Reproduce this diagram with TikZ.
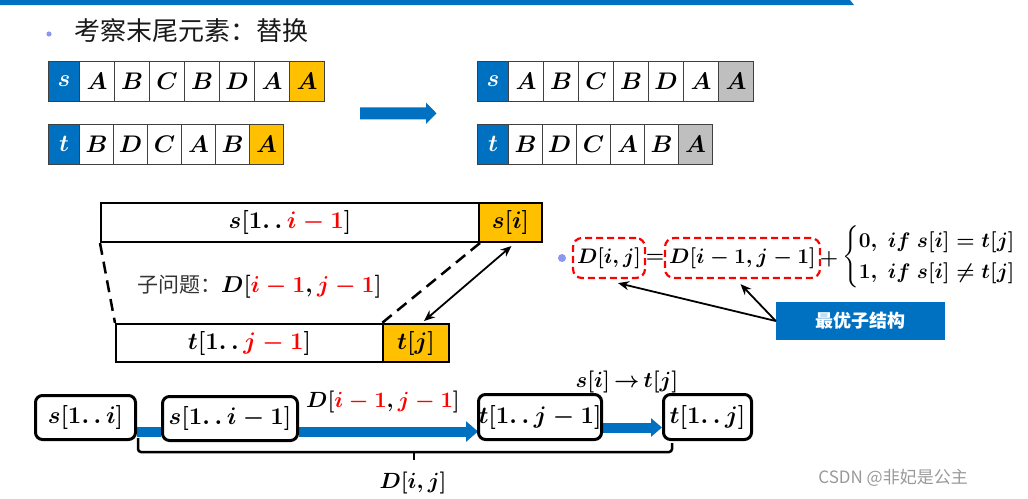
\RequirePackage{fix-cm}
\documentclass[tikz,border=0pt]{standalone}
\usepackage{amsmath}
\usepackage{fontspec}
\newfontfamily\cjk{Noto Sans CJK SC}
\usetikzlibrary{arrows.meta,calc,backgrounds}
\definecolor{myblue}{RGB}{0,112,192}
\definecolor{mygold}{RGB}{255,192,0}
\definecolor{mygray}{RGB}{191,191,191}
\definecolor{bulletc}{RGB}{140,150,240}
\newcommand\mfont{\fontsize{24}{28}\selectfont\boldmath}
\newcommand\ffont{\fontsize{21}{25}\selectfont\boldmath}
\newcommand\lfont{\fontsize{22}{26}\selectfont\boldmath}
\newcommand\mydots{.\,.\,}
\tikzset{
  cell/.style={draw=black!75, line width=1.2pt, minimum height=40pt, inner sep=0pt, anchor=north west, font=\mfont},
  bigrect/.style={draw=black, line width=2pt, inner sep=0pt, anchor=north west, font=\mfont},
  rbox/.style={draw=black, line width=3pt, rounded corners=7pt, fill=white, inner sep=0pt, anchor=north west, font=\mfont},
  reddash/.style={draw=red, line width=2.2pt, dash pattern=on 7pt off 4pt, rounded corners=9pt, inner sep=0pt, minimum height=40pt, font=\ffont},
  blueline/.style={draw=myblue, line width=10pt},
  blackarrow/.style={line width=1.8pt, -{Stealth[length=11pt,width=9pt]}},
  dashline/.style={line width=2.5pt, dash pattern=on 12pt off 7pt},
}
\begin{document}
\begin{tikzpicture}[x=1pt,y=-1pt]
\useasboundingbox (0,0) rectangle (1028,498);
% top bar
\fill[myblue] (0,0) -- (850,0) -- (854,5) -- (0,5) -- cycle;
% title
\fill[bulletc] (49,34) circle (2.6);
\node[anchor=west, font=\cjk\fontsize{26}{30}\selectfont, text=black!90, inner sep=0pt] (title) at (74,31) {考察末尾元素：替换};
% left rows
\node[cell, minimum width=31pt, fill=myblue, text=white] (sa0) at (48,61) {$s$};
\foreach \l [count=\k] in {A,B,C,B,D,A}
  \node[cell, minimum width=35pt] (sa\k) at ({79+35*(\k-1)},61) {$\l$};
\node[cell, minimum width=35pt, fill=mygold] (sa7) at (289,61) {$A$};
\node[cell, minimum width=31pt, fill=myblue, text=white] (ta0) at (48,123.5) {$t$};
\foreach \l [count=\k] in {B,D,C,A,B}
  \node[cell, minimum width=34pt] (ta\k) at ({79+34*(\k-1)},123.5) {$\l$};
\node[cell, minimum width=34pt, fill=mygold] (ta6) at (249,123.5) {$A$};
% right rows
\node[cell, minimum width=31pt, fill=myblue, text=white] (sb0) at (477,61) {$s$};
\foreach \l [count=\k] in {A,B,C,B,D,A}
  \node[cell, minimum width=35pt] (sb\k) at ({508+35*(\k-1)},61) {$\l$};
\node[cell, minimum width=35pt, fill=mygray] (sb7) at (718,61) {$A$};
\node[cell, minimum width=31pt, fill=myblue, text=white] (tb0) at (477,123.5) {$t$};
\foreach \l [count=\k] in {B,D,C,A,B}
  \node[cell, minimum width=34pt] (tb\k) at ({508+34*(\k-1)},123.5) {$\l$};
\node[cell, minimum width=34pt, fill=mygray] (tb6) at (678,123.5) {$A$};
% big blue arrow
\fill[myblue] (360,107.3) -- (426,107.3) -- (426,102.5) -- (436.5,113.3) -- (426,124) -- (426,119.3) -- (360,119.3) -- cycle;
% middle-left diagram
\node[bigrect, minimum width=378pt, minimum height=39pt] (srest) at (100,202) {$s[1\mydots{\color{red}i-1}]$};
\node[bigrect, minimum width=63pt, minimum height=39pt, fill=mygold] (si) at (478,202) {$s[i]$};
\node[bigrect, minimum width=267pt, minimum height=38pt] (trest) at (115,323) {$t[1\mydots{\color{red}j-1}]$};
\node[bigrect, minimum width=66pt, minimum height=38pt, fill=mygold] (tj) at (382,323) {$t[j]$};
\draw[dashline] (srest.south west) -- (trest.north west);
\draw[dashline] (srest.south east) -- (tj.north west);
\draw[line width=1.8pt, {Stealth[length=11pt,width=9pt]}-{Stealth[length=11pt,width=9pt]}] ($(si.south)+(1,3)$) -- ($(tj.north)+(8,-2)$);
\node[anchor=west, font=\fontsize{23}{27}\selectfont\boldmath, inner sep=0pt] (sub) at (137,287) {{\cjk\fontsize{21}{25}\selectfont\color{black!80}子问题：}$D[{\color{red}i-1},{\color{red}j-1}]$};
% formula
\fill[bulletc] (562,258) circle (4);
\node[reddash, minimum width=72pt] (D1) at (609,258) {$D[i,j]$};
\node[font=\ffont, inner sep=0pt] (eq) at (655,258) {$=$};
\node[reddash, minimum width=155pt] (D2) at (742.5,258) {$D[i-1,j-1]$};
\node[font=\ffont, inner sep=0pt] (plus) at (829,259) {$+$};
\node[anchor=west, font=\fontsize{21}{26}\selectfont\boldmath, inner sep=0pt] (cs) at (842,257) {$\begin{cases}0,\ if\ s[i]=t[j]\\1,\ if\ s[i]\neq t[j]\end{cases}$};
\node[fill=myblue, text=white, font=\cjk\bfseries\fontsize{18}{21}\selectfont, minimum width=169pt, minimum height=38pt, inner sep=0pt] (opt) at (860.5,321) {最优子结构};
\draw[blackarrow] (opt.west) -- ($(D1.south)+(9,4)$);
\draw[blackarrow] (opt.west) -- ($(D2.south)+(-2,5)$);
% bottom chain
\node[rbox, minimum width=100pt, minimum height=44pt] (b1) at (34,394) {$s[1\mydots i]$};
\node[rbox, minimum width=135pt, minimum height=44pt] (b2) at (161,395) {$s[1\mydots i-1]$};
\node[rbox, minimum width=120pt, minimum height=45pt] (b3) at (477,393) {$t[1\mydots j-1]$};
\node[rbox, minimum width=88pt, minimum height=45pt] (b4) at (662,393) {$t[1\mydots j]$};
\begin{scope}[on background layer]
\draw[blueline] ($(b1.east)+(0,14)$) -- ($(b2.west)+(0,13)$);
\draw[blueline, -{Triangle[length=12pt,width=20pt]}] ($(b2.east)+(0,13)$) -- ($(b3.west)+(1,14.5)$);
\draw[blueline, -{Triangle[length=11pt,width=18pt]}] ($(b3.east)+(0,10.5)$) -- ($(b4.west)+(0,10.5)$);
\end{scope}
\node[font=\lfont, inner sep=0pt] (lab1) at (383,402) {$D[{\color{red}i-1},{\color{red}j-1}]$};
\node[font=\lfont, inner sep=0pt] (lab2) at (627,382) {$s[i]\,{\to}\,t[j]$};
\coordinate (brL) at (138,438);
\coordinate (brR) at (672,443);
\coordinate (brM) at (414,452);
\draw[line width=2.5pt, rounded corners=3pt] (brL) -- (138,452) -- (672,452) -- (brR);
\draw[line width=2.5pt] (brM) -- (414,460);
\node[font=\lfont, inner sep=0pt] (lab3) at (413,483) {$D[i,j]$};
% watermark
\node[anchor=east, text=black!40, font=\cjk\fontsize{17}{20}\selectfont, inner sep=0pt] (wm) at (968,478) {CSDN @非妃是公主};
\end{tikzpicture}
\end{document}
